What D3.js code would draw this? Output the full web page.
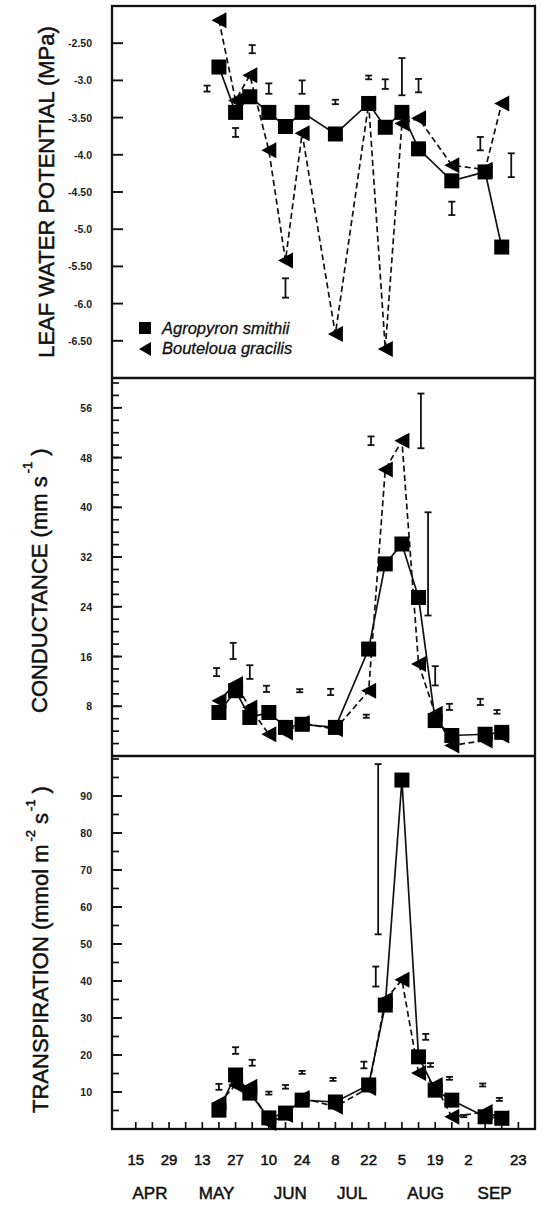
<!DOCTYPE html>
<html><head><meta charset="utf-8">
<script src="https://cdn.jsdelivr.net/npm/d3@7"></script>
<style>html,body{margin:0;padding:0;background:#fff;} svg{display:block;}</style>
</head><body>
<svg id="c" width="543" height="1207"></svg>
<script>
// ---------- DATA ----------
const sampleDates = ["1986-05-20","1986-05-27","1986-06-02","1986-06-10","1986-06-17","1986-06-24","1986-07-08","1986-07-22","1986-07-29","1986-08-05","1986-08-12","1986-08-19","1986-08-26","1986-09-09","1986-09-16"];

// Leaf water potential (MPa)
const lwpAgropyron = [-2.82,-3.43,-3.22,-3.43,-3.62,-3.43,-3.72,-3.31,-3.63,-3.43,-3.92,null,-4.35,-4.23,-5.24];
const lwpBouteloua = [-2.19,-3.27,-2.93,-3.94,-5.42,-3.71,-6.41,-3.31,-6.61,-3.58,-3.51,null,-4.14,-4.20,-3.31];
const lwpErrDates = ["1986-05-15","1986-05-27","1986-06-03","1986-06-10","1986-06-17","1986-06-24","1986-07-08","1986-07-22","1986-07-29","1986-08-05","1986-08-12","1986-08-26","1986-09-07","1986-09-20"];
const lwpErrMid  = [-3.11,-3.70,-2.58,-3.11,-5.79,-3.09,-3.29,-2.96,-3.05,-2.95,-3.07,-4.72,-3.85,-4.14];
const lwpErrHalf = [0.04,0.06,0.055,0.07,0.13,0.09,0.03,0.025,0.065,0.25,0.09,0.09,0.09,0.16];

// Conductance (mm s-1)
const condAgropyron = [7.0,10.5,6.2,7.0,4.6,5.1,4.6,17.2,30.9,34.1,25.5,5.7,3.3,3.5,3.8];
const condBouteloua = [8.9,11.6,7.8,3.5,3.8,5.3,4.3,10.5,46.1,50.7,14.8,6.8,1.7,2.5,3.3];
const condErrDates = ["1986-05-19","1986-05-26","1986-06-02","1986-06-09","1986-06-23","1986-07-06","1986-07-21","1986-07-23","1986-08-13","1986-08-16","1986-08-19","1986-08-25","1986-09-07","1986-09-14"];
const condErrMid  = [13.5,16.9,13.5,10.8,10.5,10.3,6.4,50.7,53.9,30.9,12.9,7.9,8.7,7.1];
const condErrHalf = [0.65,1.3,1.1,0.5,0.25,0.5,0.25,0.7,4.4,8.3,1.55,0.5,0.5,0.3];

// Transpiration (mmol m-2 s-1)
const transAgropyron = [5.1,14.6,9.7,3.0,4.3,7.8,7.3,11.9,33.5,94.3,19.5,10.5,7.8,3.3,2.9];
const transBouteloua = [7.0,11.9,11.4,1.6,3.8,8.4,6.0,11.1,34.9,40.3,15.1,11.9,3.3,4.6,2.9];
const transErrDates = ["1986-05-20","1986-05-27","1986-06-03","1986-06-10","1986-06-17","1986-06-24","1986-07-07","1986-07-20","1986-07-25","1986-07-26","1986-08-15","1986-08-17","1986-08-25","1986-08-31","1986-09-08","1986-09-15"];
const transErrMid  = [11.4,21.2,17.9,9.7,11.4,15.3,13.4,17.3,41.2,75.6,24.9,17.3,13.7,3.5,11.9,8.0];
const transErrHalf = [0.8,0.9,0.8,0.4,0.5,0.4,0.4,0.9,2.7,23,0.8,0.5,0.4,0.3,0.4,0.4];

// Axis ticks / labels
const lwpTicks = [-2.5,-3.0,-3.5,-4.0,-4.5,-5.0,-5.5,-6.0,-6.5];
const lwpTickLabels = ["-2.50","-3.0","-3.50","-4.0","-4.50","-5.0","-5.50","-6.0","-6.50"];
const condLabelTicks = [8,16,24,32,40,48,56];
const transLabelTicks = [10,20,30,40,50,60,70,80,90];
const xLabelDates = ["1986-04-15","1986-04-29","1986-05-13","1986-05-27","1986-06-10","1986-06-24","1986-07-08","1986-07-22","1986-08-05","1986-08-19","1986-09-02","1986-09-23"];
const xLabelTexts = ["15","29","13","27","10","24","8","22","5","19","2","23"];
const monthNames = ["APR","MAY","JUN","JUL","AUG","SEP"];
const monthLabelDates = ["1986-04-21","1986-05-19","1986-06-19","1986-07-15","1986-08-15","1986-09-13"];
const seriesNames = ["Agropyron smithii","Bouteloua gracilis"];

// ---------- DRAW ----------
const parse = d3.utcParse("%Y-%m-%d");
const svg = d3.select("#c");
const L = 112, R = 535, T = 6, D1 = 378, D2 = 756, B = 1129;
const FONT = "'Liberation Sans', Arial, Helvetica, sans-serif";
const INK = "#111";

const x = d3.scaleUtc().domain([parse("1986-04-05"), parse("1986-09-30")]).range([L, R]);
const yLwp = d3.scaleLinear().domain([-7, -2]).range([D1, T]);
const yCond = d3.scaleLinear().domain([0, 60.8]).range([D2, D1]);
const yTrans = d3.scaleLinear().domain([0, 100.8]).range([B, D2]);

const dates = sampleDates.map(parse);

function yAxis(scale, major, labels, minor, majorLen, minorLen) {
  const g = svg.append("g");
  if (minor) {
    g.selectAll("line.mn").data(minor).join("line")
      .attr("x1", L).attr("x2", L + minorLen)
      .attr("y1", d => scale(d)).attr("y2", d => scale(d))
      .attr("stroke", INK).attr("stroke-width", 1.7);
  }
  g.selectAll("line.mj").data(major).join("line")
    .attr("x1", L).attr("x2", L + majorLen)
    .attr("y1", d => scale(d)).attr("y2", d => scale(d))
    .attr("stroke", INK).attr("stroke-width", 1.9);
  g.selectAll("text").data(major).join("text")
    .attr("x", 92).attr("y", d => scale(d) + 4)
    .attr("text-anchor", "end")
    .attr("font-family", FONT).attr("font-size", 10.5).attr("font-weight", "bold")
    .attr("fill", "#222")
    .text((d, i) => labels[i]);
}

yAxis(yLwp, lwpTicks, lwpTickLabels, null, 11, 0);
yAxis(yCond, condLabelTicks, condLabelTicks.map(String), d3.range(2, 61, 2), 10, 7);
yAxis(yTrans, transLabelTicks, transLabelTicks.map(String), d3.range(5, 101, 5), 10, 7);

// x ticks (weekly)
const weekly = d3.range(0, 24).map(i => d3.utcDay.offset(parse("1986-04-15"), i * 7));
svg.append("g").selectAll("line").data(weekly).join("line")
  .attr("x1", d => x(d)).attr("x2", d => x(d))
  .attr("y1", B).attr("y2", B - 7)
  .attr("stroke", INK).attr("stroke-width", 1.7);
svg.append("g").selectAll("text").data(xLabelDates).join("text")
  .attr("x", d => x(parse(d))).attr("y", 1165)
  .attr("text-anchor", "middle")
  .attr("font-family", FONT).attr("font-size", 15).attr("fill", INK)
  .attr("stroke", INK).attr("stroke-width", 0.5)
  .text((d, i) => xLabelTexts[i]);
svg.append("g").selectAll("text").data(monthLabelDates).join("text")
  .attr("x", d => x(parse(d))).attr("y", 1199)
  .attr("text-anchor", "middle")
  .attr("font-family", FONT).attr("font-size", 17).attr("fill", INK)
  .attr("stroke", INK).attr("stroke-width", 0.5)
  .text((d, i) => monthNames[i]);

// frame
const frame = svg.append("g").attr("stroke", INK).attr("stroke-width", 2.3).attr("fill", "none");
frame.append("rect").attr("x", L).attr("y", T).attr("width", R - L).attr("height", B - T);
frame.append("line").attr("x1", L).attr("x2", R).attr("y1", D1).attr("y2", D1);
frame.append("line").attr("x1", L).attr("x2", R).attr("y1", D2).attr("y2", D2);

// error bars
function errBars(scale, ds, mid, half) {
  const g = svg.append("g").attr("stroke", INK).attr("stroke-width", 1.8);
  ds.forEach((d, i) => {
    const cx = x(parse(d)), y1 = scale(mid[i] + half[i]), y2 = scale(mid[i] - half[i]);
    g.append("line").attr("x1", cx).attr("x2", cx).attr("y1", y1).attr("y2", y2);
    g.append("line").attr("x1", cx - 3.5).attr("x2", cx + 3.5).attr("y1", y1).attr("y2", y1);
    g.append("line").attr("x1", cx - 3.5).attr("x2", cx + 3.5).attr("y1", y2).attr("y2", y2);
  });
}
errBars(yLwp, lwpErrDates, lwpErrMid, lwpErrHalf);
errBars(yCond, condErrDates, condErrMid, condErrHalf);
errBars(yTrans, transErrDates, transErrMid, transErrHalf);

const triPath = (cx, cy) => `M${cx - 7.5},${cy}L${cx + 7.5},${cy - 8}L${cx + 7.5},${cy + 8}Z`;

function series(scale, vals, dashed, marker) {
  const pts = dates.map((d, i) => [d, vals[i]]).filter(p => p[1] != null);
  svg.append("path")
    .attr("d", d3.line().x(p => x(p[0])).y(p => scale(p[1]))(pts))
    .attr("fill", "none").attr("stroke", INK).attr("stroke-width", 1.7)
    .attr("stroke-dasharray", dashed ? "6,3.5" : null);
  const g = svg.append("g").attr("fill", "#000");
  pts.forEach(p => {
    const cx = x(p[0]), cy = scale(p[1]);
    if (marker === "square") g.append("rect").attr("x", cx - 7.5).attr("y", cy - 7.5).attr("width", 15).attr("height", 15);
    else g.append("path").attr("d", triPath(cx, cy));
  });
}
series(yLwp, lwpBouteloua, true, "tri");
series(yLwp, lwpAgropyron, false, "square");
series(yCond, condBouteloua, true, "tri");
series(yCond, condAgropyron, false, "square");
series(yTrans, transBouteloua, true, "tri");
series(yTrans, transAgropyron, false, "square");

// legend
const lg = svg.append("g");
lg.append("rect").attr("x", 139).attr("y", 322).attr("width", 12).attr("height", 12).attr("fill", "#000");
lg.append("path").attr("d", `M139,349L151,342L151,356Z`).attr("fill", "#000");
lg.selectAll("text").data(seriesNames).join("text")
  .attr("x", 162).attr("y", (d, i) => 334 + i * 20)
  .attr("font-family", FONT).attr("font-size", 16.5).attr("font-style", "italic").attr("fill", INK)
  .attr("stroke", INK).attr("stroke-width", 0.3)
  .text(d => d);

// axis titles
svg.append("text").attr("transform", "translate(54,192) rotate(-90)")
  .attr("text-anchor", "middle").attr("font-family", FONT).attr("font-size", 22).attr("fill", INK)
  .attr("stroke", INK).attr("stroke-width", 0.5)
  .text("LEAF WATER POTENTIAL (MPa)");

const t2 = svg.append("text").attr("transform", "translate(47,713) rotate(-90)")
  .attr("font-family", FONT).attr("font-size", 22).attr("fill", INK)
  .attr("stroke", INK).attr("stroke-width", 0.5);
t2.append("tspan").text("CONDUCTANCE (mm s");
t2.append("tspan").attr("font-size", 13).attr("dy", -15).attr("dx", 3).text("-1");
t2.append("tspan").attr("dy", 15).attr("dx", 6).text(")");

const t3 = svg.append("text").attr("transform", "translate(48,1113) rotate(-90)")
  .attr("font-family", FONT).attr("font-size", 22).attr("fill", INK)
  .attr("stroke", INK).attr("stroke-width", 0.5);
t3.append("tspan").text("TRANSPIRATION (mmol m");
t3.append("tspan").attr("font-size", 13).attr("dy", -13).attr("dx", 3).text("-2");
t3.append("tspan").attr("dy", 13).attr("dx", 6).text("s");
t3.append("tspan").attr("font-size", 13).attr("dy", -13).attr("dx", 2).text("-1");
t3.append("tspan").attr("dy", 13).attr("dx", 6).text(")");
</script>
</body></html>
